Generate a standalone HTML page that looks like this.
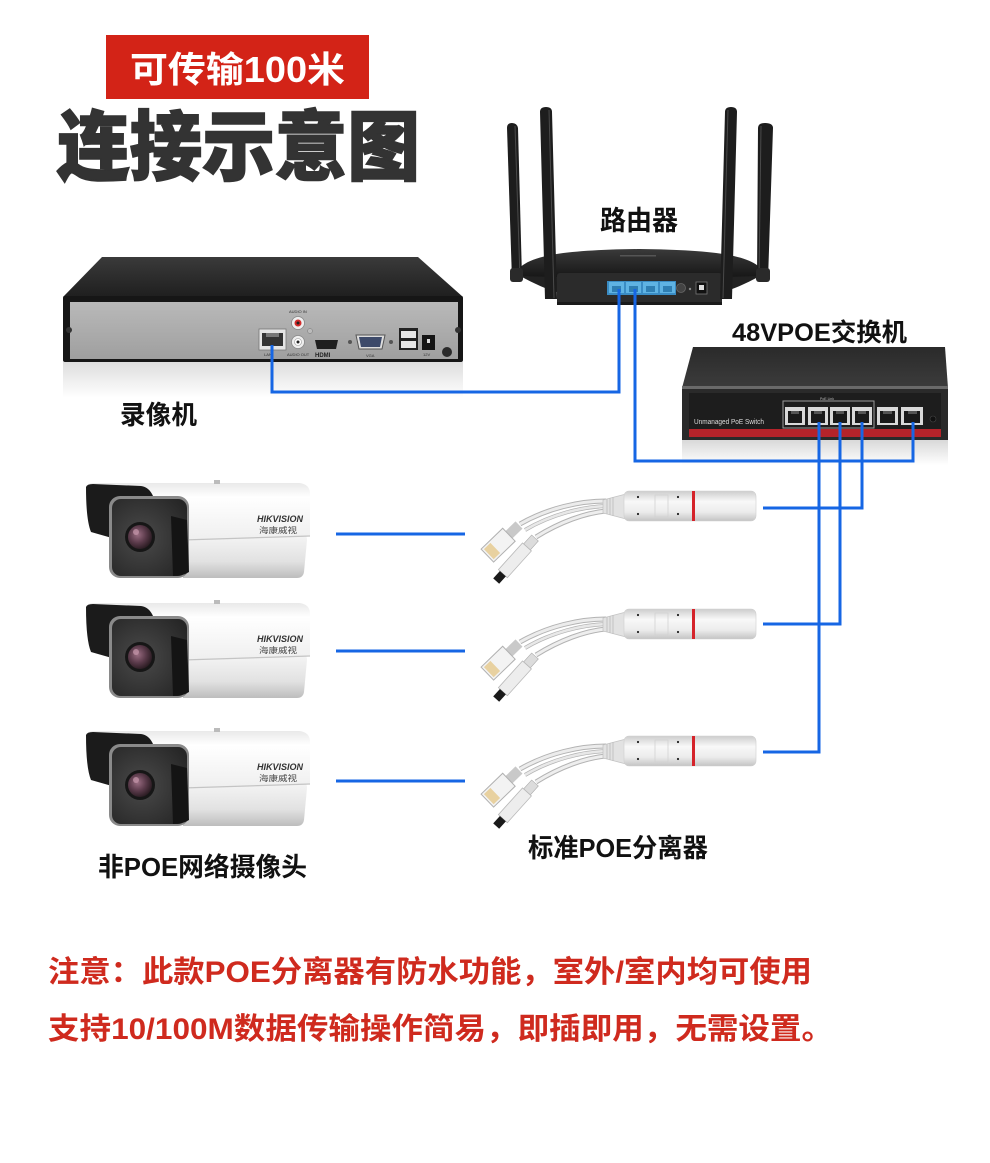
<!DOCTYPE html>
<html><head><meta charset="utf-8">
<style>
html,body{margin:0;padding:0;background:#fff;}
svg{display:block;}
text{font-family:"Liberation Sans","Noto Sans CJK SC",sans-serif;}
</style></head><body>
<svg width="990" height="1163" viewBox="0 0 990 1163" xmlns="http://www.w3.org/2000/svg">
<defs>
 <linearGradient id="nvrTop" x1="0" y1="0" x2="0" y2="1"><stop offset="0" stop-color="#3a3a3a"/><stop offset="1" stop-color="#1f1f1f"/></linearGradient>
 <linearGradient id="nvrFront" x1="0" y1="0" x2="0" y2="1"><stop offset="0" stop-color="#b9b9b9"/><stop offset="1" stop-color="#9f9f9f"/></linearGradient>
 <linearGradient id="refl" x1="0" y1="0" x2="0" y2="1"><stop offset="0" stop-color="#cfcfcf"/><stop offset="1" stop-color="#ffffff"/></linearGradient>
 <linearGradient id="swTop" x1="0" y1="0" x2="0" y2="1"><stop offset="0" stop-color="#2a2a2a"/><stop offset="1" stop-color="#3c3c3c"/></linearGradient>
 <linearGradient id="rtTop" x1="0" y1="0" x2="0" y2="1"><stop offset="0" stop-color="#3a3a3a"/><stop offset="1" stop-color="#161616"/></linearGradient>
 <linearGradient id="camTop" x1="0" y1="0" x2="0" y2="1"><stop offset="0" stop-color="#e9e9e9"/><stop offset=".25" stop-color="#ffffff"/><stop offset="1" stop-color="#efefef"/></linearGradient>
 <linearGradient id="camLow" x1="0" y1="0" x2="0" y2="1"><stop offset="0" stop-color="#f4f4f4"/><stop offset=".6" stop-color="#e2e2e2"/><stop offset="1" stop-color="#bdbdbd"/></linearGradient>
 <radialGradient id="camFace" cx=".4" cy=".5" r=".7"><stop offset="0" stop-color="#4a4a4a"/><stop offset="1" stop-color="#262626"/></radialGradient>
 <radialGradient id="lens" cx=".4" cy=".4" r=".7"><stop offset="0" stop-color="#9a6d82"/><stop offset=".5" stop-color="#5a3a4a"/><stop offset="1" stop-color="#1e1418"/></radialGradient>
 <linearGradient id="spl" x1="0" y1="0" x2="0" y2="1"><stop offset="0" stop-color="#cdcdcd"/><stop offset=".35" stop-color="#f8f8f8"/><stop offset=".7" stop-color="#ececec"/><stop offset="1" stop-color="#c4c4c4"/></linearGradient>
</defs>
<rect width="990" height="1163" fill="#fff"/>

<!-- Header -->
<rect x="106" y="35" width="263" height="64" fill="#d32317"/>
<text x="130" y="82" font-size="36" font-weight="700" fill="#fff" textLength="215" lengthAdjust="spacingAndGlyphs">可传输100米</text>
<text x="57" y="174" font-size="76" font-weight="900" fill="#333" stroke="#333" stroke-width="1.6" textLength="363" lengthAdjust="spacingAndGlyphs">连接示意图</text>

<!-- Router -->
<text x="600" y="230" font-size="27" font-weight="700" fill="#111" textLength="78" lengthAdjust="spacingAndGlyphs">路由器</text>
<path d="M515,276 C520,256 560,250 640,249 C720,250 760,256 765,276 C745,279 730,277 722,277 L557,277 C548,277 535,279 515,276 Z" fill="url(#rtTop)"/>
<rect x="620" y="255" width="36" height="1.5" fill="#555"/>
<path d="M520,276 C535,284 548,290 557,292 L557,277 Z" fill="#222"/>
<path d="M760,276 C745,284 732,290 722,292 L722,277 Z" fill="#222"/>
<rect x="557" y="273" width="165" height="32" rx="3" fill="#2b2b2b"/>
<rect x="557" y="302" width="165" height="3" fill="#1a1a1a"/>
<rect x="607" y="281" width="69" height="14" fill="#3a8cc4"/>
<rect x="609" y="282" width="15" height="11" fill="#5fb3e3"/><rect x="626" y="282" width="15" height="11" fill="#5fb3e3"/>
<rect x="643" y="282" width="15" height="11" fill="#5fb3e3"/><rect x="660" y="282" width="15" height="11" fill="#5fb3e3"/>
<rect x="612" y="286" width="9" height="6" fill="#2f7fb3"/><rect x="629" y="286" width="9" height="6" fill="#2f7fb3"/>
<rect x="646" y="286" width="9" height="6" fill="#2f7fb3"/><rect x="663" y="286" width="9" height="6" fill="#2f7fb3"/>
<circle cx="681" cy="288" r="4.5" fill="#444" stroke="#666" stroke-width=".8"/>
<circle cx="690" cy="289" r="1.2" fill="#888"/>
<rect x="696" y="282" width="11" height="12" fill="#111" stroke="#777" stroke-width=".8"/>
<rect x="699" y="285" width="5" height="5" fill="#ddd"/>
<!-- antennas -->
<path d="M507,128 Q507,123 512,123 Q517,123 518,128 L522,278 L512,280 Z" fill="#1d1d1d"/>
<path d="M515,126 L520,278" stroke="#4a4a4a" stroke-width="1"/>
<rect x="510" y="268" width="13" height="14" rx="3" fill="#2a2a2a"/>
<path d="M540,112 Q540,107 546,107 Q552,107 552,112 L557,299 L545,299 Z" fill="#1d1d1d"/>
<path d="M549,110 L554,298" stroke="#4a4a4a" stroke-width="1"/>
<path d="M725,112 Q725,107 731,107 Q737,107 737,112 L732,299 L720,299 Z" fill="#1d1d1d"/>
<path d="M728,110 L723,298" stroke="#4a4a4a" stroke-width="1"/>
<path d="M758,128 Q758,123 765,123 Q773,123 773,128 L768,280 L757,280 Z" fill="#1d1d1d"/>
<path d="M761,126 L759,278" stroke="#4a4a4a" stroke-width="1"/>
<rect x="756" y="268" width="14" height="14" rx="3" fill="#2a2a2a"/>

<!-- NVR -->
<polygon points="102,257 418,257 463,297 63,297" fill="url(#nvrTop)"/>
<rect x="63" y="296" width="400" height="66" rx="2" fill="#161616"/>
<rect x="70" y="302" width="388" height="57" fill="url(#nvrFront)"/>
<circle cx="69" cy="330" r="3" fill="#333"/><circle cx="458" cy="330" r="3" fill="#333"/>
<rect x="63" y="362" width="400" height="36" fill="url(#refl)" opacity=".7"/>
<rect x="259" y="329" width="27" height="21" fill="#e4e4e4" stroke="#777" stroke-width=".8"/>
<rect x="262" y="333" width="21" height="13" fill="#333"/>
<rect x="266" y="333" width="13" height="4" fill="#777"/>
<text x="264" y="356" font-size="4" fill="#333">LAN</text>
<text x="289" y="313" font-size="4" fill="#333">AUDIO IN</text>
<circle cx="298" cy="323" r="6.5" fill="#eee" stroke="#888" stroke-width=".8"/><circle cx="298" cy="323" r="3.5" fill="#d42b2b"/><circle cx="298" cy="323" r="1.5" fill="#222"/>
<circle cx="310" cy="331" r="2.5" fill="#bbb" stroke="#777" stroke-width=".5"/>
<circle cx="298" cy="342" r="6.5" fill="#eee" stroke="#888" stroke-width=".8"/><circle cx="298" cy="342" r="3.5" fill="#fff" stroke="#999" stroke-width=".6"/><circle cx="298" cy="342" r="1.5" fill="#222"/>
<text x="287" y="356" font-size="4" fill="#333">AUDIO OUT</text>
<path d="M315,340 L338,340 L336,349 L317,349 Z" fill="#1f1f1f"/>
<text x="315" y="357" font-size="6" font-weight="700" fill="#222">HDMI</text>
<circle cx="350" cy="342" r="2" fill="#555"/><circle cx="391" cy="342" r="2" fill="#555"/>
<path d="M356,335 L385,335 L382,349 L359,349 Z" fill="#ddd" stroke="#555" stroke-width="1"/>
<path d="M359,337 L382,337 L380,347 L361,347 Z" fill="#3d4a6a"/>
<text x="366" y="357" font-size="4" fill="#333">VGA</text>
<rect x="399" y="328" width="19" height="22" fill="#222"/>
<rect x="401" y="331" width="15" height="7" fill="#e6e6e6"/><rect x="401" y="341" width="15" height="7" fill="#e6e6e6"/>
<rect x="422" y="335" width="13" height="15" fill="#151515"/><rect x="427" y="339" width="3" height="4" fill="#ddd"/>
<text x="423" y="356" font-size="4" fill="#333">12V</text>
<circle cx="447" cy="352" r="5" fill="#2a2a2a"/>
<text x="120" y="424" font-size="26" font-weight="700" fill="#111" textLength="77" lengthAdjust="spacingAndGlyphs">录像机</text>

<!-- Switch -->
<text x="732" y="341" font-size="25" font-weight="700" fill="#111" textLength="175" lengthAdjust="spacingAndGlyphs">48VPOE交换机</text>
<polygon points="693,347 945,347 948,388 682,388" fill="url(#swTop)"/>
<rect x="682" y="386" width="266" height="3" fill="#6a6a6a"/>
<rect x="682" y="389" width="266" height="51" fill="#2a2a2a"/>
<rect x="689" y="393" width="252" height="37" fill="#1d1d1d"/>
<rect x="689" y="429" width="252" height="8" fill="#b5232a"/>
<rect x="682" y="440" width="266" height="25" fill="url(#refl)" opacity=".8"/>
<text x="694" y="424" font-size="7" fill="#ddd" textLength="70" lengthAdjust="spacingAndGlyphs">Unmanaged PoE Switch</text>
<rect x="783" y="401" width="91" height="27" fill="none" stroke="#9a9a9a" stroke-width="1"/>
<text x="820" y="400" font-size="3.5" fill="#bbb">PoE Link</text>
<g fill="#d9d9d9">
 <rect x="785" y="407" width="20" height="18"/><rect x="808" y="407" width="20" height="18"/>
 <rect x="830" y="407" width="20" height="18"/><rect x="852" y="407" width="20" height="18"/>
 <rect x="877" y="407" width="21" height="18"/><rect x="901" y="407" width="22" height="18"/>
</g>
<g fill="#1a1a1a">
 <rect x="788" y="411" width="14" height="12"/><rect x="811" y="411" width="14" height="12"/>
 <rect x="833" y="411" width="14" height="12"/><rect x="855" y="411" width="14" height="12"/>
 <rect x="880" y="411" width="15" height="12"/><rect x="904" y="411" width="16" height="12"/>
</g>
<g fill="#555">
 <rect x="791" y="411" width="8" height="3"/><rect x="814" y="411" width="8" height="3"/>
 <rect x="836" y="411" width="8" height="3"/><rect x="858" y="411" width="8" height="3"/>
 <rect x="883" y="411" width="9" height="3"/><rect x="908" y="411" width="9" height="3"/>
</g>
<circle cx="933" cy="419" r="3" fill="#111" stroke="#444" stroke-width=".6"/>

<!-- Cameras -->
<g transform="translate(83,480)">
 <path d="M95,56 L222,56 Q224,56 224,60 L221,92 Q220,98 214,98 L100,98 Z" fill="url(#camLow)"/>
 <path d="M3,7 Q4,3 12,3 L216,3 Q227,4 227,14 L227,56 Q160,58 100,60 L40,60 Z" fill="url(#camTop)"/>
 <path d="M100,60 Q160,58 227,56" stroke="#c4c4c4" stroke-width="1.2" fill="none"/>
 <path d="M3,7 Q4,4 10,4 L58,6 Q66,7 70,16 L44,18 Q33,20 31,30 L29,58 L8,52 Q3,40 3,7 Z" fill="#1b1b1b"/>
 <rect x="26" y="16" width="80" height="82" rx="11" fill="#8a8a8a"/>
 <rect x="29" y="19" width="75" height="77" rx="9" fill="url(#camFace)"/>
 <path d="M88,36 L104,40 L106,92 Q100,96 90,96 Z" fill="#141414"/>
 <circle cx="57" cy="57" r="15" fill="#161616"/>
 <circle cx="57" cy="57" r="12" fill="url(#lens)"/>
 <circle cx="53" cy="52" r="3" fill="#c99aae" opacity=".7"/>
 <text x="174" y="42" font-size="9.5" font-style="italic" font-weight="700" fill="#333" textLength="46" lengthAdjust="spacingAndGlyphs">HIKVISION</text>
 <text x="176" y="53" font-size="8" fill="#444" textLength="38" lengthAdjust="spacingAndGlyphs">海康威视</text>
 <rect x="131" y="0" width="6" height="4" fill="#bbb"/>
</g>
<g transform="translate(83,600)">
 <path d="M95,56 L222,56 Q224,56 224,60 L221,92 Q220,98 214,98 L100,98 Z" fill="url(#camLow)"/>
 <path d="M3,7 Q4,3 12,3 L216,3 Q227,4 227,14 L227,56 Q160,58 100,60 L40,60 Z" fill="url(#camTop)"/>
 <path d="M100,60 Q160,58 227,56" stroke="#c4c4c4" stroke-width="1.2" fill="none"/>
 <path d="M3,7 Q4,4 10,4 L58,6 Q66,7 70,16 L44,18 Q33,20 31,30 L29,58 L8,52 Q3,40 3,7 Z" fill="#1b1b1b"/>
 <rect x="26" y="16" width="80" height="82" rx="11" fill="#8a8a8a"/>
 <rect x="29" y="19" width="75" height="77" rx="9" fill="url(#camFace)"/>
 <path d="M88,36 L104,40 L106,92 Q100,96 90,96 Z" fill="#141414"/>
 <circle cx="57" cy="57" r="15" fill="#161616"/>
 <circle cx="57" cy="57" r="12" fill="url(#lens)"/>
 <circle cx="53" cy="52" r="3" fill="#c99aae" opacity=".7"/>
 <text x="174" y="42" font-size="9.5" font-style="italic" font-weight="700" fill="#333" textLength="46" lengthAdjust="spacingAndGlyphs">HIKVISION</text>
 <text x="176" y="53" font-size="8" fill="#444" textLength="38" lengthAdjust="spacingAndGlyphs">海康威视</text>
 <rect x="131" y="0" width="6" height="4" fill="#bbb"/>
</g>
<g transform="translate(83,728)">
 <path d="M95,56 L222,56 Q224,56 224,60 L221,92 Q220,98 214,98 L100,98 Z" fill="url(#camLow)"/>
 <path d="M3,7 Q4,3 12,3 L216,3 Q227,4 227,14 L227,56 Q160,58 100,60 L40,60 Z" fill="url(#camTop)"/>
 <path d="M100,60 Q160,58 227,56" stroke="#c4c4c4" stroke-width="1.2" fill="none"/>
 <path d="M3,7 Q4,4 10,4 L58,6 Q66,7 70,16 L44,18 Q33,20 31,30 L29,58 L8,52 Q3,40 3,7 Z" fill="#1b1b1b"/>
 <rect x="26" y="16" width="80" height="82" rx="11" fill="#8a8a8a"/>
 <rect x="29" y="19" width="75" height="77" rx="9" fill="url(#camFace)"/>
 <path d="M88,36 L104,40 L106,92 Q100,96 90,96 Z" fill="#141414"/>
 <circle cx="57" cy="57" r="15" fill="#161616"/>
 <circle cx="57" cy="57" r="12" fill="url(#lens)"/>
 <circle cx="53" cy="52" r="3" fill="#c99aae" opacity=".7"/>
 <text x="174" y="42" font-size="9.5" font-style="italic" font-weight="700" fill="#333" textLength="46" lengthAdjust="spacingAndGlyphs">HIKVISION</text>
 <text x="176" y="53" font-size="8" fill="#444" textLength="38" lengthAdjust="spacingAndGlyphs">海康威视</text>
 <rect x="131" y="0" width="6" height="4" fill="#bbb"/>
</g>
<text x="98" y="876" font-size="26" font-weight="700" fill="#111" textLength="209" lengthAdjust="spacingAndGlyphs">非POE网络摄像头</text>

<!-- Splitters -->
<g>
 <path d="M606,501 C580,501 548,508 520,524" stroke="#b3b3b3" stroke-width="5" fill="none"/>
 <path d="M606,501 C580,501 548,508 520,524" stroke="#ececec" stroke-width="3" fill="none"/>
 <path d="M606,506 C582,507 552,514 525,530" stroke="#b3b3b3" stroke-width="4" fill="none"/>
 <path d="M606,506 C582,507 552,514 525,530" stroke="#e8e8e8" stroke-width="2.5" fill="none"/>
 <path d="M606,511 C585,513 560,522 536,537" stroke="#b3b3b3" stroke-width="5" fill="none"/>
 <path d="M606,511 C585,513 560,522 536,537" stroke="#eeeeee" stroke-width="3" fill="none"/>
 <g transform="translate(519,525) rotate(136)">
  <rect x="0" y="-5" width="14" height="10" fill="#c9c9c9"/>
  <rect x="14" y="-9" width="30" height="18" fill="#f3f3f3" stroke="#b0b0b0" stroke-width="1"/>
  <rect x="33" y="-7" width="9" height="14" fill="#e3c27c" opacity=".7"/>
 </g>
 <g transform="translate(535,538) rotate(132)">
  <rect x="0" y="-4.5" width="12" height="9" fill="#dcdcdc" stroke="#aaa" stroke-width=".6"/>
  <rect x="12" y="-6" width="36" height="12" fill="#ededed" stroke="#b8b8b8" stroke-width=".8"/>
  <rect x="48" y="-4" width="10" height="8" fill="#1a1a1a"/>
 </g>
 <path d="M603,500 L626,494 L626,519 L603,513 Z" fill="#e2e2e2" stroke="#c4c4c4" stroke-width=".8"/>
 <path d="M607,499 V514 M610,498 V515 M613,497 V516" stroke="#bbb" stroke-width=".8"/>
 <rect x="624" y="491" width="132" height="30" rx="5" fill="url(#spl)" stroke="#cfcfcf" stroke-width=".6"/>
 <rect x="692" y="491" width="3" height="30" fill="#d5232a"/>
 <rect x="655" y="495" width="13" height="22" fill="none" stroke="#d2d2d2" stroke-width=".8"/>
 <circle cx="638" cy="497" r="1.1" fill="#222"/><circle cx="678" cy="497" r="1.1" fill="#222"/>
 <circle cx="638" cy="514" r="1.1" fill="#222"/><circle cx="678" cy="514" r="1.1" fill="#222"/>
</g>
<g transform="translate(0,118)">
 <path d="M606,501 C580,501 548,508 520,524" stroke="#b3b3b3" stroke-width="5" fill="none"/>
 <path d="M606,501 C580,501 548,508 520,524" stroke="#ececec" stroke-width="3" fill="none"/>
 <path d="M606,506 C582,507 552,514 525,530" stroke="#b3b3b3" stroke-width="4" fill="none"/>
 <path d="M606,506 C582,507 552,514 525,530" stroke="#e8e8e8" stroke-width="2.5" fill="none"/>
 <path d="M606,511 C585,513 560,522 536,537" stroke="#b3b3b3" stroke-width="5" fill="none"/>
 <path d="M606,511 C585,513 560,522 536,537" stroke="#eeeeee" stroke-width="3" fill="none"/>
 <g transform="translate(519,525) rotate(136)">
  <rect x="0" y="-5" width="14" height="10" fill="#c9c9c9"/>
  <rect x="14" y="-9" width="30" height="18" fill="#f3f3f3" stroke="#b0b0b0" stroke-width="1"/>
  <rect x="33" y="-7" width="9" height="14" fill="#e3c27c" opacity=".7"/>
 </g>
 <g transform="translate(535,538) rotate(132)">
  <rect x="0" y="-4.5" width="12" height="9" fill="#dcdcdc" stroke="#aaa" stroke-width=".6"/>
  <rect x="12" y="-6" width="36" height="12" fill="#ededed" stroke="#b8b8b8" stroke-width=".8"/>
  <rect x="48" y="-4" width="10" height="8" fill="#1a1a1a"/>
 </g>
 <path d="M603,500 L626,494 L626,519 L603,513 Z" fill="#e2e2e2" stroke="#c4c4c4" stroke-width=".8"/>
 <path d="M607,499 V514 M610,498 V515 M613,497 V516" stroke="#bbb" stroke-width=".8"/>
 <rect x="624" y="491" width="132" height="30" rx="5" fill="url(#spl)" stroke="#cfcfcf" stroke-width=".6"/>
 <rect x="692" y="491" width="3" height="30" fill="#d5232a"/>
 <rect x="655" y="495" width="13" height="22" fill="none" stroke="#d2d2d2" stroke-width=".8"/>
 <circle cx="638" cy="497" r="1.1" fill="#222"/><circle cx="678" cy="497" r="1.1" fill="#222"/>
 <circle cx="638" cy="514" r="1.1" fill="#222"/><circle cx="678" cy="514" r="1.1" fill="#222"/>
</g>
<g transform="translate(0,245)">
 <path d="M606,501 C580,501 548,508 520,524" stroke="#b3b3b3" stroke-width="5" fill="none"/>
 <path d="M606,501 C580,501 548,508 520,524" stroke="#ececec" stroke-width="3" fill="none"/>
 <path d="M606,506 C582,507 552,514 525,530" stroke="#b3b3b3" stroke-width="4" fill="none"/>
 <path d="M606,506 C582,507 552,514 525,530" stroke="#e8e8e8" stroke-width="2.5" fill="none"/>
 <path d="M606,511 C585,513 560,522 536,537" stroke="#b3b3b3" stroke-width="5" fill="none"/>
 <path d="M606,511 C585,513 560,522 536,537" stroke="#eeeeee" stroke-width="3" fill="none"/>
 <g transform="translate(519,525) rotate(136)">
  <rect x="0" y="-5" width="14" height="10" fill="#c9c9c9"/>
  <rect x="14" y="-9" width="30" height="18" fill="#f3f3f3" stroke="#b0b0b0" stroke-width="1"/>
  <rect x="33" y="-7" width="9" height="14" fill="#e3c27c" opacity=".7"/>
 </g>
 <g transform="translate(535,538) rotate(132)">
  <rect x="0" y="-4.5" width="12" height="9" fill="#dcdcdc" stroke="#aaa" stroke-width=".6"/>
  <rect x="12" y="-6" width="36" height="12" fill="#ededed" stroke="#b8b8b8" stroke-width=".8"/>
  <rect x="48" y="-4" width="10" height="8" fill="#1a1a1a"/>
 </g>
 <path d="M603,500 L626,494 L626,519 L603,513 Z" fill="#e2e2e2" stroke="#c4c4c4" stroke-width=".8"/>
 <path d="M607,499 V514 M610,498 V515 M613,497 V516" stroke="#bbb" stroke-width=".8"/>
 <rect x="624" y="491" width="132" height="30" rx="5" fill="url(#spl)" stroke="#cfcfcf" stroke-width=".6"/>
 <rect x="692" y="491" width="3" height="30" fill="#d5232a"/>
 <rect x="655" y="495" width="13" height="22" fill="none" stroke="#d2d2d2" stroke-width=".8"/>
 <circle cx="638" cy="497" r="1.1" fill="#222"/><circle cx="678" cy="497" r="1.1" fill="#222"/>
 <circle cx="638" cy="514" r="1.1" fill="#222"/><circle cx="678" cy="514" r="1.1" fill="#222"/>
</g>
<text x="528" y="857" font-size="26" font-weight="700" fill="#111" textLength="180" lengthAdjust="spacingAndGlyphs">标准POE分离器</text>

<!-- Connectors -->
<g stroke="#1666e4" stroke-width="3" fill="none" stroke-linejoin="miter">
 <path d="M272,345 V392 H619 V289"/>
 <path d="M635,289 V461 H913 V422"/>
 <path d="M819,422 V752 H763"/>
 <path d="M840,422 V624 H763"/>
 <path d="M862,422 V508 H763"/>
 <path d="M336,534 H465"/>
 <path d="M336,651 H465"/>
 <path d="M336,781 H465"/>
</g>

<!-- Notes -->
<text x="48" y="982" font-size="30" font-weight="700" fill="#cf2a1e" textLength="764" lengthAdjust="spacingAndGlyphs">注意：此款POE分离器有防水功能，室外/室内均可使用</text>
<text x="48" y="1039" font-size="30" font-weight="700" fill="#cf2a1e" textLength="785" lengthAdjust="spacingAndGlyphs">支持10/100M数据传输操作简易，即插即用，无需设置。</text>
</svg>
</body></html>
